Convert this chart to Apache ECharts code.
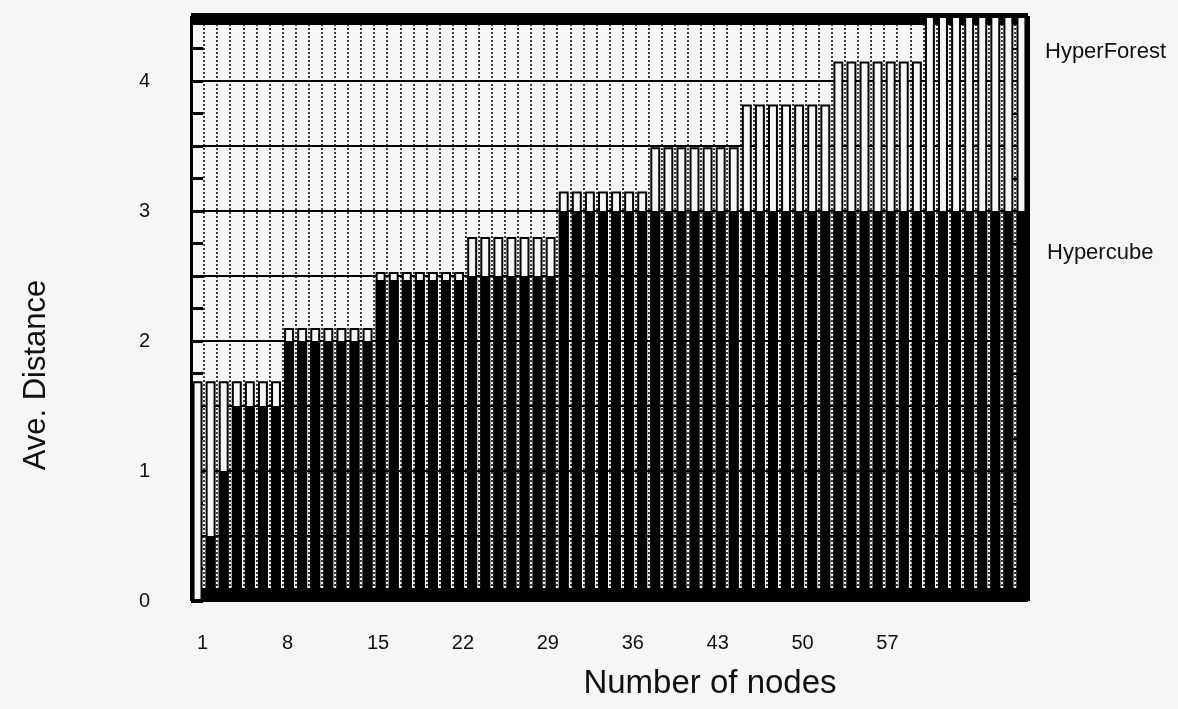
<!DOCTYPE html>
<html>
<head>
<meta charset="utf-8">
<title>Ave. Distance vs Number of nodes</title>
<script src="https://cdn.jsdelivr.net/npm/echarts@6/dist/echarts.min.js"></script>
<style>
  html, body { margin: 0; padding: 0; background: #f6f6f6; }
  #chart { width: 1178px; height: 709px; }
</style>
</head>
<body>
<div id="chart"></div>
<script>
// x categories: number of nodes 1..64
const nodes = Array.from({ length: 64 }, (_, i) => String(i + 1));

// values
const hyperForest = [
  1.69, 1.69, 1.69, 1.69, 1.69, 1.69, 1.69,
  2.10, 2.10, 2.10, 2.10, 2.10, 2.10, 2.10,
  2.53, 2.53, 2.53, 2.53, 2.53, 2.53, 2.53,
  2.80, 2.80, 2.80, 2.80, 2.80, 2.80, 2.80,
  3.15, 3.15, 3.15, 3.15, 3.15, 3.15, 3.15,
  3.49, 3.49, 3.49, 3.49, 3.49, 3.49, 3.49,
  3.82, 3.82, 3.82, 3.82, 3.82, 3.82, 3.82,
  4.15, 4.15, 4.15, 4.15, 4.15, 4.15, 4.15,
  4.5, 4.5, 4.5, 4.5, 4.5, 4.5, 4.5, 4.5
];
const hypercube = [
  0, 0.5, 1.0, 1.5, 1.5, 1.5, 1.5,
  2.0, 2.0, 2.0, 2.0, 2.0, 2.0, 2.0,
  2.47, 2.47, 2.47, 2.47, 2.47, 2.47, 2.47,
  2.5, 2.5, 2.5, 2.5, 2.5, 2.5, 2.5,
  3.0, 3.0, 3.0, 3.0, 3.0, 3.0, 3.0, 3.0, 3.0, 3.0, 3.0, 3.0,
  3.0, 3.0, 3.0, 3.0, 3.0, 3.0, 3.0, 3.0, 3.0, 3.0, 3.0, 3.0,
  3.0, 3.0, 3.0, 3.0, 3.0, 3.0, 3.0, 3.0, 3.0, 3.0, 3.0, 3.0
];

// tick labels under the axis (they sit on a slightly tighter pitch than the bars)
const xTicks = ['1', '8', '15', '22', '29', '36', '43', '50', '57'];
const labelSlots = Array.from({ length: 69 }, (_, i) => String(i + 1));

const FONT = "'Liberation Sans Narrow', 'Liberation Sans', Arial, sans-serif";

var chart = echarts.init(document.getElementById('chart'));

var option = {
  backgroundColor: '#f6f6f6',
  animation: false,
  grid: { left: 191, right: 150, top: 16, bottom: 108 },
  xAxis: [
    {
      type: 'category',
      data: nodes,
      axisLine: { show: false },
      axisTick: { show: false },
      axisLabel: { show: false },
      splitLine: {
        show: true,
        interval: 0,
        lineStyle: { color: '#000', width: 1.5, type: [2, 2] }
      }
    },
    {
      type: 'category',
      data: labelSlots,
      position: 'bottom',
      offset: -6,
      axisLine: { show: true, lineStyle: { color: '#000', width: 14, cap: 'butt' } },
      axisTick: { show: false },
      splitLine: { show: false },
      axisLabel: {
        interval: 0,
        margin: 38,
        align: 'left',
        fontFamily: 'Liberation Sans, Arial, sans-serif',
        fontSize: 20,
        color: '#111',
        formatter: v => xTicks.includes(v) ? v : ''
      }
    },
    {
      type: 'category',
      data: nodes,
      position: 'top',
      offset: -3,
      axisLine: { show: true, lineStyle: { color: '#000', width: 12, cap: 'butt' } },
      axisTick: { show: false },
      axisLabel: { show: false },
      splitLine: { show: false }
    }
  ],
  yAxis: [
    {
      type: 'value',
      min: 0,
      max: 4.5,
      interval: 0.5,
      position: 'left',
      axisLine: { show: true, lineStyle: { color: '#000', width: 3, cap: 'butt' } },
      axisTick: { show: true, inside: true, length: 12, lineStyle: { color: '#000', width: 3 } },
      minorTick: { show: true, splitNumber: 2, length: 12, lineStyle: { color: '#000', width: 3 } },
      splitLine: { show: true, lineStyle: { color: '#000', width: 2 } },
      axisLabel: {
        margin: 41,
        fontFamily: 'Liberation Sans, Arial, sans-serif',
        fontSize: 20,
        color: '#111',
        formatter: v => Number.isInteger(v) ? String(v) : ''
      }
    },
    {
      type: 'value',
      min: 0,
      max: 4.5,
      interval: 0.5,
      position: 'right',
      axisLine: { show: true, lineStyle: { color: '#000', width: 4, cap: 'butt' } },
      axisTick: { show: true, inside: true, length: 18, lineStyle: { color: '#000', width: 2 } },
      minorTick: { show: true, splitNumber: 2, length: 18, lineStyle: { color: '#000', width: 2 } },
      splitLine: { show: false },
      axisLabel: { show: false }
    }
  ],
  series: [
    {
      name: 'HyperForest',
      type: 'bar',
      data: hyperForest,
      barCategoryGap: '24%',
      barGap: '-100%',
      itemStyle: { color: '#f7f7f7', borderColor: '#000', borderWidth: 2 }
    },
    {
      name: 'Hypercube',
      type: 'bar',
      data: hypercube,
      barCategoryGap: '24%',
      barGap: '-100%',
      itemStyle: { color: '#000' }
    }
  ],
  graphic: [
    {
      type: 'text',
      x: 36, y: 375,
      rotation: Math.PI / 2,
      style: { text: 'Ave. Distance', font: '31px ' + FONT, fill: '#111', align: 'center', verticalAlign: 'middle' }
    },
    {
      type: 'text',
      x: 710, y: 684,
      style: { text: 'Number of nodes', font: '33px ' + FONT, fill: '#111', align: 'center', verticalAlign: 'middle' }
    },
    {
      type: 'text',
      x: 1045, y: 52,
      style: { text: 'HyperForest', font: '22px ' + FONT, fill: '#111', align: 'left', verticalAlign: 'middle' }
    },
    {
      type: 'text',
      x: 1047, y: 253,
      style: { text: 'Hypercube', font: '22px ' + FONT, fill: '#111', align: 'left', verticalAlign: 'middle' }
    }
  ]
};

chart.setOption(option);
</script>
</body>
</html>
